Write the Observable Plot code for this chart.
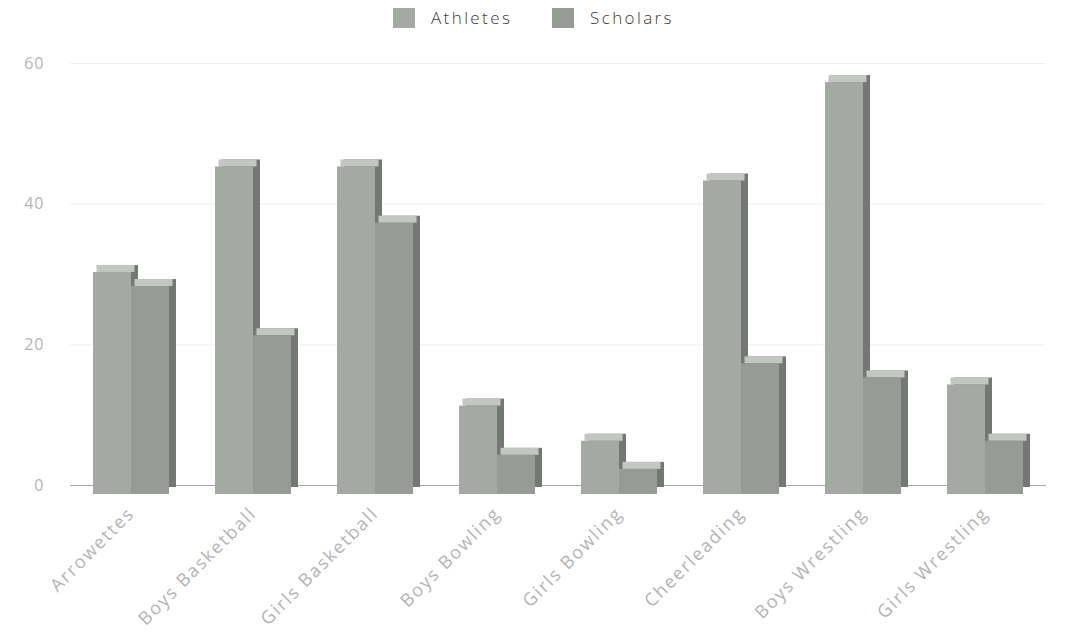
<!DOCTYPE html>
<html>
<head>
<meta charset="utf-8">
<script src="https://cdn.jsdelivr.net/npm/d3@7"></script>
<script src="https://cdn.jsdelivr.net/npm/@observablehq/plot@0.6"></script>
<style>
  html, body { margin: 0; padding: 0; background: #fff; }
  body { width: 1076px; height: 637px; overflow: hidden; font-family: "Open Sans", sans-serif; }
  #legend { height: 36px; position: relative; }
  .item { position: absolute; top: 0; height: 36px; display: flex; align-items: center; }
  .sw { width: 22px; height: 20px; margin-top: -1px; }
  .lbl { margin-left: 16px; font-size: 17px; letter-spacing: 2.4px; color: #3a3a3a; font-weight: 300; margin-top: -2px; }
  #chart svg text { letter-spacing: 1px; }
  #chart svg g[aria-label="fx-axis tick label"] text { font-size: 18px; letter-spacing: 1.8px; }
</style>
</head>
<body>
<div id="legend"></div>
<div id="chart"></div>
<script>
const categories = ["Arrowettes", "Boys Basketball", "Girls Basketball", "Boys Bowling", "Girls Bowling", "Cheerleading", "Boys Wrestling", "Girls Wrestling"];
const series = ["Athletes", "Scholars"];
const athletes = [31, 46, 46, 12, 7, 44, 58, 15];
const scholars = [29, 22, 38, 5, 3, 18, 16, 7];
const yTicks = [0, 20, 40, 60];

const frontColors = ["#a5a9a4", "#979b96"];
const sideColor = "#747873";
const topColor = "#c3c7c2";

const data = categories.flatMap((c, i) => [
  {category: c, series: series[0], value: athletes[i]},
  {category: c, series: series[1], value: scholars[i]}
]);

// legend
const legend = document.getElementById("legend");
const legendLeft = [393, 552];
series.forEach((s, i) => {
  const it = document.createElement("div");
  it.className = "item";
  it.style.left = legendLeft[i] + "px";
  it.innerHTML = `<div class="sw" style="background:${frontColors[i]}"></div><div class="lbl">${s}</div>`;
  legend.appendChild(it);
});

const chart = Plot.plot({
  width: 1076,
  height: 601,
  marginTop: 27,
  marginBottom: 152,
  marginLeft: 68,
  marginRight: 28,
  style: {fontFamily: "Open Sans, sans-serif", fontSize: "16px", color: "#b4b4b4", background: "#fff"},
  fx: {domain: categories, padding: 0, label: null, tickSize: 0, tickRotate: -45, tickPadding: 25},
  x: {domain: series, paddingInner: 0, paddingOuter: 0.6, axis: null},
  y: {domain: [0, 60], ticks: yTicks, tickSize: 0, tickPadding: 26, label: null},
  color: {domain: series, range: frontColors},
  marks: [
    Plot.ruleY([20, 40, 60], {stroke: "#efefef"}),
    Plot.ruleY([0], {stroke: "#a8a8a8"}),
    Plot.barY(data, {fx: "category", x: "series", y: "value", fill: sideColor, dx: 7, dy: -2, insetBottom: -4}),
    Plot.barY(data, {fx: "category", x: "series", y1: "value", y2: "value", insetTop: -7, fill: topColor, dx: 3.5, dy: 5}),
    Plot.barY(data, {fx: "category", x: "series", y: "value", fill: "series", dy: 5, insetBottom: -4})
  ]
});
document.getElementById("chart").appendChild(chart);
</script>
</body>
</html>
